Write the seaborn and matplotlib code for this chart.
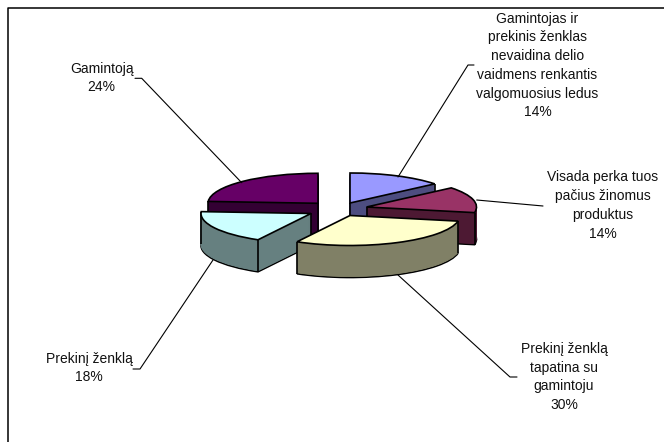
import numpy as np
import matplotlib
matplotlib.use("Agg")
import matplotlib.pyplot as plt
import seaborn as sns

categories = ["Gamintojas ir\nprekinis ženklas\nnevaidina delio\nvaidmens renkantis\nvalgomuosius ledus",
              "Visada perka tuos\npačius žinomus\nproduktus",
              "Prekinį ženklą\ntapatina su\ngamintoju",
              "Prekinį ženklą",
              "Gamintoją"]
values = [14, 14, 30, 18, 24]
top_colors = ["#9999FF", "#993366", "#FFFFCC", "#CCFFFF", "#660066"]
side_colors = ["#4D4D80", "#4D1933", "#808066", "#668080", "#330033"]

# layout in reference pixels
W, H = 664, 442
RX, RY, DEPTH = 110, 30, 32
centers_px = [(350, 203), (366.5, 207), (350, 215.5), (311, 213.5), (318, 203.3)]
draw_order = [4, 0, 1, 3, 2]
vertical_edges = [("center", "last"), ("center", "last"), ("first", "last"),
                  ("first", "center", "last"), ("first", "center")]
label_pos = [(537.5, 65.5), (603, 205.5), (564, 377), (89, 368), (101.7, 78)]
leaders = [[(398, 177), (468, 65), (474, 65)],
           [(476.7, 200), (543, 206)],
           [(398, 275), (510, 377), (517, 377)],
           [(213, 260), (140, 369), (133, 369)],
           [(241.7, 182.7), (141.7, 78.3), (135, 78.3)]]

sns.set_theme(style="white")
plt.rcParams["font.family"] = ["Liberation Sans", "DejaVu Sans"]

fig = plt.figure(figsize=(W / 100, H / 100), dpi=100, facecolor="white")
ax = fig.add_axes([0, 0, 1, 1])


def one_slice(i, center, face, edge, lw, z):
    wedges, _ = ax.pie(values, startangle=90, counterclock=False, center=center,
                       radius=1, colors=[face] * len(values),
                       wedgeprops={"edgecolor": edge, "linewidth": lw})
    for j, w in enumerate(wedges):
        if j != i:
            w.remove()
    wedges[i].set_zorder(z)
    return wedges[i]


for rank, i in enumerate(draw_order):
    cx = centers_px[i][0] / RX
    cy = (H - centers_px[i][1]) / RY
    dy = DEPTH / RY
    z = 10 * (rank + 1)
    one_slice(i, (cx, cy - dy), side_colors[i], "black", 1.2, z)
    for step in range(DEPTH - 1, 0, -1):
        one_slice(i, (cx, cy - step / RY), side_colors[i], side_colors[i], 0.6, z + 1)
    top = one_slice(i, (cx, cy), top_colors[i], "black", 1.2, z + 3)
    for name in vertical_edges[i]:
        if name == "center":
            x = cx
            y = cy
        else:
            a = np.deg2rad(top.theta2 if name == "first" else top.theta1)
            x = cx + np.cos(a)
            y = cy + np.sin(a)
        ax.plot([x, x], [y, y - dy], color="black", lw=1.2, zorder=z + 2, solid_capstyle="butt")

ax.set_aspect("auto")
ax.set_xlim(0, W / RX)
ax.set_ylim(0, H / RY)
ax.axis("off")

# overlay in pixel units for labels, leader lines and frame
ov = fig.add_axes([0, 0, 1, 1], facecolor="none")
ov.set_xlim(0, W)
ov.set_ylim(H, 0)
ov.axis("off")
for pts in leaders:
    ov.plot([p[0] for p in pts], [p[1] for p in pts], color="black", lw=0.8)
for cat, val, (x, y) in zip(categories, values, label_pos):
    ov.text(x, y, f"{cat}\n{val}%", ha="center", va="center", fontsize=10,
            color="#111111", linespacing=1.43)
ov.plot([7.5, 7.5, W], [H, 7.5, 7.5], color="black", lw=1.1)

fig.savefig("out.png", dpi=100)
